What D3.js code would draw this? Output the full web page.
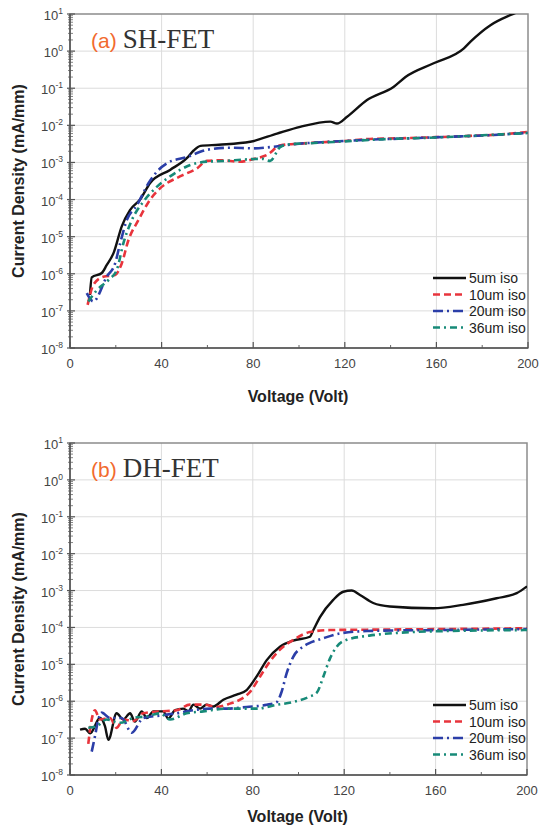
<!DOCTYPE html>
<html>
<head>
<meta charset="utf-8">
<script src="https://cdn.jsdelivr.net/npm/d3@7"></script>
<style>
body { margin: 0; background: #fff; }
</style>
</head>
<body>
<div id="chart"></div>
<script>
// legend / series
var seriesNames = ["5um iso", "10um iso", "20um iso", "36um iso"];
var colors = ["#111111", "#e8343c", "#2b3ea8", "#178a78"];
var dashes = [null, "7,4", "10,4,2,4", "7,4,2,4"];

var xTicks = [0, 40, 80, 120, 160, 200];
var xMinor = [20, 60, 100, 140, 180];
var yExps = [-8, -7, -6, -5, -4, -3, -2, -1, 0, 1];

// (a) SH-FET : [voltage, current density mA/mm]
var sh5 = [[8.7,2.7e-7],[9.5,8e-7],[13.9,1.05e-6],[16,1.7e-6],[19,3.6e-6],[22.6,1.9e-5],[26.2,5.2e-5],[30.6,1.0e-4],[35,2.8e-4],[43.7,6.3e-4],[51,1.3e-3],[54,2.1e-3],[57,2.8e-3],[65,3.0e-3],[78.7,3.6e-3],[90.4,6e-3],[100.5,9.1e-3],[113.7,1.26e-2],[116.6,1.12e-2],[121,1.7e-2],[129.7,4.8e-2],[141.4,0.11],[146.5,0.2],[158.8,0.47],[172,1.19],[174.9,1.8],[183.6,5],[192.4,9.4],[195,11]];
var sh10 = [[7.7,1.45e-7],[10.2,5e-7],[14.5,8.3e-7],[19.7,9.3e-7],[22.6,1.9e-6],[25.5,8e-6],[29.9,2.8e-5],[35,1e-4],[39.3,2e-4],[48,4.2e-4],[55.4,6.9e-4],[59.8,1.1e-3],[66,1.15e-3],[74,1.05e-3],[81.6,1.3e-3],[86,1.6e-3],[92,2.9e-3],[100,3.2e-3],[110,3.5e-3],[120,3.8e-3],[131,4.3e-3],[145,4.5e-3],[160,4.8e-3],[175,5.2e-3],[190,5.8e-3],[200,6.7e-3]];
var sh20 = [[7.3,3e-7],[10.2,1.8e-7],[16,8.3e-7],[19.7,1.9e-6],[21.9,6.6e-6],[24.8,2.8e-5],[29.2,7e-5],[34.2,2.7e-4],[37.9,5.6e-4],[42.3,9.5e-4],[51,1.4e-3],[60,2.2e-3],[70,2.5e-3],[80,2.4e-3],[90,2.7e-3],[100,3.2e-3],[110,3.5e-3],[120,3.8e-3],[135,4.2e-3],[150,4.5e-3],[165,4.9e-3],[180,5.3e-3],[200,6.3e-3]];
var sh36 = [[8,1.8e-7],[11.7,3.6e-7],[16.8,6.8e-7],[20.4,1.26e-6],[23.3,6.6e-6],[27,2.8e-5],[32,8.7e-5],[37.9,2.2e-4],[43.7,4.2e-4],[52.5,8.5e-4],[59.8,1.05e-3],[68,1.1e-3],[76,1.2e-3],[84,1.25e-3],[87.4,1.1e-3],[91.8,2.6e-3],[96,3.1e-3],[105,3.3e-3],[120,3.7e-3],[140,4.3e-3],[160,4.7e-3],[180,5.4e-3],[200,6.2e-3]];

// (b) DH-FET
var dh5 = [[4.4,1.7e-7],[6.6,1.8e-7],[8.8,1.35e-7],[13.1,3.5e-7],[15.3,2.1e-7],[16.8,9e-8],[20.4,4.7e-7],[23.3,3.2e-7],[26.3,4.7e-7],[28.4,2.8e-7],[31.4,5.3e-7],[33.6,3.5e-7],[36.5,5.3e-7],[40.8,5.3e-7],[43,3.4e-7],[46,5.7e-7],[49.6,6.3e-7],[51.8,5.3e-7],[54,8.1e-7],[56.9,6.3e-7],[59.8,8.1e-7],[62.7,7.2e-7],[67.1,1.1e-6],[72.9,1.5e-6],[77.3,2e-6],[81.7,4.7e-6],[86.1,1.3e-5],[91.9,3e-5],[97.7,4.4e-5],[105,5.6e-5],[106.5,8.5e-5],[109.4,1.9e-4],[115.2,5.6e-4],[119.6,9.3e-4],[123.3,1e-3],[126.9,7.6e-4],[132.7,4.6e-4],[140,3.7e-4],[159,3.3e-4],[172,4.1e-4],[186.7,6.2e-4],[195.5,8.5e-4],[200,1.3e-3]];
var dh10 = [[8,7e-8],[9.5,3.2e-7],[10.9,5.7e-7],[13.1,3.2e-7],[17.5,3.5e-7],[20.4,1.9e-7],[23.3,3.2e-7],[27.7,2.9e-7],[32,4.7e-7],[39.4,5.3e-7],[46.7,5.7e-7],[52.5,8.1e-7],[58.4,8.1e-7],[64.2,7e-7],[70,8.6e-7],[74.4,1.1e-6],[78.8,1.8e-6],[83.2,4.7e-6],[87.5,1.2e-5],[91.9,2.5e-5],[97.7,4.6e-5],[105,7.5e-5],[113.8,8.5e-5],[130,8.7e-5],[160,9e-5],[200,9.5e-5]];
var dh20 = [[9.5,4.3e-8],[10.9,1.1e-7],[12.4,3.2e-7],[13.9,4.9e-7],[17.5,3.5e-7],[22.6,3.5e-7],[27,1.4e-7],[32,3.5e-7],[39.4,4.1e-7],[46.7,4.7e-7],[54,5.7e-7],[61.3,6.3e-7],[68.6,6.3e-7],[77.3,7e-7],[86.1,8e-7],[90.5,9.5e-7],[92.6,1.8e-6],[94.8,5.7e-6],[97.7,1.6e-5],[102,3e-5],[104.5,3.7e-5],[110.9,5.1e-5],[118.2,6.9e-5],[130,8e-5],[160,8.5e-5],[200,9e-5]];
var dh36 = [[8,1.9e-7],[11.7,2.1e-7],[16,3.2e-7],[21.9,2.6e-7],[27.7,3.5e-7],[33.6,3.9e-7],[39.4,4.7e-7],[43.8,3.2e-7],[51,4.7e-7],[58.3,5.3e-7],[68.6,6.3e-7],[81.7,6.3e-7],[90.5,8e-7],[97.7,9.5e-7],[105,1.35e-6],[108,1.7e-6],[110.9,4.7e-6],[113.8,1.45e-5],[116.7,3e-5],[121,4.6e-5],[131,6e-5],[150,7.5e-5],[175,8.2e-5],[200,8.5e-5]];

var sans = "'Liberation Sans', Arial, sans-serif";
var serif = "'Liberation Serif', 'Times New Roman', serif";

var svg = d3.select("#chart").append("svg")
  .attr("width", 539)
  .attr("height", 829);

function panel(id, box, data, tag, name) {
  var x = d3.scaleLinear().domain([0, 200]).range([box.left, box.right]);
  var y = d3.scaleLog().domain([1e-8, 10]).range([box.bottom, box.top]);
  var g = svg.append("g").attr("id", id);

  // grid
  g.selectAll("line.gx").data(xTicks.slice(1, -1)).enter().append("line")
    .attr("x1", d => x(d)).attr("x2", d => x(d))
    .attr("y1", box.top).attr("y2", box.bottom)
    .attr("stroke", "#dcdcdc").attr("stroke-width", 1);
  g.selectAll("line.gy").data(yExps.slice(1, -1)).enter().append("line")
    .attr("x1", box.left).attr("x2", box.right)
    .attr("y1", d => y(Math.pow(10, d))).attr("y2", d => y(Math.pow(10, d)))
    .attr("stroke", "#dcdcdc").attr("stroke-width", 1);

  // frame
  g.append("rect")
    .attr("x", box.left).attr("y", box.top)
    .attr("width", box.right - box.left).attr("height", box.bottom - box.top)
    .attr("fill", "none").attr("stroke", "#8c8c8c").attr("stroke-width", 1.5);

  // y ticks (log minor + major)
  var minor = [];
  for (var e = -8; e < 1; e++) {
    for (var k = 2; k < 10; k++) minor.push(k * Math.pow(10, e));
  }
  g.selectAll("line.ym").data(minor).enter().append("line")
    .attr("x1", box.left - 2).attr("x2", box.left + 3)
    .attr("y1", d => y(d)).attr("y2", d => y(d))
    .attr("stroke", "#666").attr("stroke-width", 0.8);
  g.selectAll("line.yM").data(yExps).enter().append("line")
    .attr("x1", box.left - 3).attr("x2", box.left + 5)
    .attr("y1", d => y(Math.pow(10, d))).attr("y2", d => y(Math.pow(10, d)))
    .attr("stroke", "#555").attr("stroke-width", 1.2);

  var yl = g.selectAll("text.yl").data(yExps).enter().append("text")
    .attr("x", box.left - 7)
    .attr("y", d => y(Math.pow(10, d)) + 6)
    .attr("text-anchor", "end")
    .attr("font-family", sans).attr("font-size", 13).attr("fill", "#444");
  yl.append("tspan").text("10");
  yl.append("tspan").attr("dy", -6).attr("font-size", 8.5)
    .text(d => d < 0 ? "-" + (-d) : String(d));

  // x ticks
  g.selectAll("line.xm").data(xMinor).enter().append("line")
    .attr("x1", d => x(d)).attr("x2", d => x(d))
    .attr("y1", box.bottom).attr("y2", box.bottom - 3)
    .attr("stroke", "#666").attr("stroke-width", 1);
  g.selectAll("line.xM").data(xTicks).enter().append("line")
    .attr("x1", d => x(d)).attr("x2", d => x(d))
    .attr("y1", box.bottom).attr("y2", box.bottom - 6)
    .attr("stroke", "#555").attr("stroke-width", 1.2);
  g.selectAll("text.xl").data(xTicks).enter().append("text")
    .attr("x", d => x(d)).attr("y", box.bottom + 20)
    .attr("text-anchor", "middle")
    .attr("font-family", sans).attr("font-size", 13).attr("fill", "#444")
    .text(d => d);

  // axis lines darker
  g.append("line").attr("x1", box.left).attr("x2", box.left)
    .attr("y1", box.top).attr("y2", box.bottom)
    .attr("stroke", "#555").attr("stroke-width", 1.6);
  g.append("line").attr("x1", box.left).attr("x2", box.right)
    .attr("y1", box.bottom).attr("y2", box.bottom)
    .attr("stroke", "#555").attr("stroke-width", 1.6);

  // axis titles
  g.append("text")
    .attr("x", (box.left + box.right) / 2 - 1).attr("y", box.bottom + box.titleGap)
    .attr("text-anchor", "middle")
    .attr("font-family", sans).attr("font-size", 16).attr("font-weight", "bold")
    .attr("fill", "#222")
    .text("Voltage (Volt)");
  g.append("text")
    .attr("transform", "translate(24," + ((box.top + box.bottom) / 2) + ") rotate(-90)")
    .attr("text-anchor", "middle")
    .attr("font-family", sans).attr("font-size", 16).attr("font-weight", "bold")
    .attr("fill", "#222")
    .text("Current Density (mA/mm)");

  // curves
  g.append("clipPath").attr("id", "clip_" + id)
    .append("rect")
    .attr("x", box.left).attr("y", box.top)
    .attr("width", box.right - box.left).attr("height", box.bottom - box.top);

  var line = d3.line()
    .x(d => x(d[0]))
    .y(d => y(d[1]))
    .curve(d3.curveMonotoneX);

  g.append("g").attr("clip-path", "url(#clip_" + id + ")")
    .selectAll("path").data(data).enter().append("path")
    .attr("d", d => line(d))
    .attr("fill", "none")
    .attr("stroke", (d, i) => colors[i])
    .attr("stroke-width", (d, i) => i == 0 ? 2.4 : 2.6)
    .attr("stroke-dasharray", (d, i) => dashes[i])
    .attr("stroke-linejoin", "round");

  // panel title
  var t = g.append("text")
    .attr("x", box.left + 21).attr("y", box.top + 34);
  t.append("tspan").attr("font-family", sans).attr("font-size", 21)
    .attr("fill", "#f26a2e").text(tag);
  t.append("tspan").attr("font-family", serif).attr("font-size", 27)
    .attr("fill", "#333").attr("dx", 6).text(name);

  // legend
  var lg = g.append("g");
  var ly0 = box.bottom - 70;
  seriesNames.forEach(function(s, i) {
    var yy = ly0 + i * 16.5;
    lg.append("line")
      .attr("x1", 433).attr("x2", 466)
      .attr("y1", yy).attr("y2", yy)
      .attr("stroke", colors[i]).attr("stroke-width", 2.6)
      .attr("stroke-dasharray", dashes[i]);
    lg.append("text")
      .attr("x", 469).attr("y", yy + 5)
      .attr("font-family", sans).attr("font-size", 14).attr("fill", "#222")
      .text(s);
  });
}

panel("a", {left: 70, right: 528, top: 14, bottom: 348, titleGap: 54}, [sh5, sh10, sh20, sh36], "(a)", "SH-FET");
panel("b", {left: 70, right: 527, top: 443, bottom: 775, titleGap: 47}, [dh5, dh10, dh20, dh36], "(b)", "DH-FET");
</script>
</body>
</html>
